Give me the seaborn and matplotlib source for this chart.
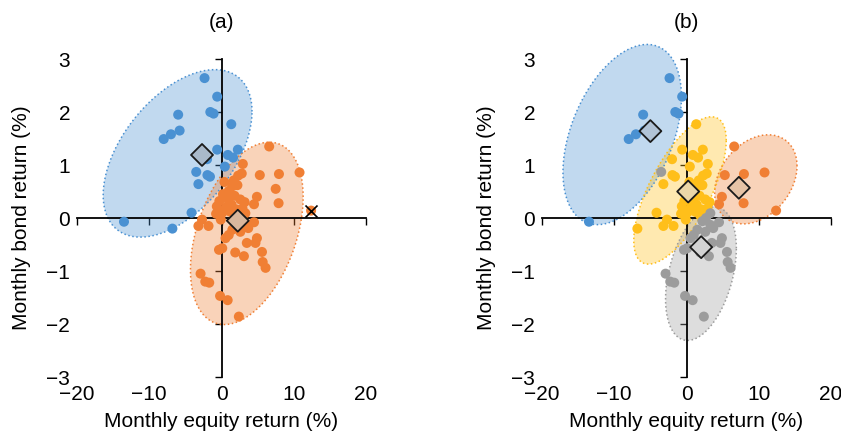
import numpy as np
import pandas as pd
import seaborn as sns
import matplotlib.pyplot as plt

sns.set_theme(style="white")
plt.rcParams['font.family'] = ['Liberation Sans', 'DejaVu Sans']
plt.rcParams['text.color'] = 'black'
plt.rcParams['axes.labelcolor'] = 'black'
plt.rcParams['xtick.color'] = 'black'
plt.rcParams['ytick.color'] = 'black'

# monthly returns (%), one row per month, with regime label for each panel
equity = [-2.35, -0.6, -6.0, -1.55, -1.1, -8.0, -7.0, -5.8, -13.5,
          1.35, -0.6, 2.26, 0.88, 1.6, -2.0, 0.46, -1.95, -1.6, -3.2, -4.15, -6.8,
          -3.5,
          6.6, 5.3, 7.95, 10.8, 7.5, 4.9, 4.5, 7.9, 12.4,
          2.95, 2.8, 2.3, 1.7, 1.5, 1.0, 2.2, 0.4, 0.2, 0.9, 1.8, 2.6, 3.2, 1.4,
          0.6, -0.3, -0.65, 0.1, 1.2, 2.1, 2.9, -0.75, -2.7, -3.2, -1.8, -0.1, 1.9,
          3.3, 2.7, 2.2, 3.3, 4.5, 3.7, 2.6, 1.5, 1.0, 0.55, 4.9, 4.7, 3.5, -0.35,
          0.1, 1.9, 3.1, 5.6, 5.7, 6.1, -2.9, -2.25, -1.7, -0.2, 0.85, 2.4]
bond = [2.64, 2.29, 1.95, 2.0, 1.97, 1.49, 1.58, 1.65, -0.07,
        1.77, 1.29, 1.29, 1.19, 1.14, 1.11, 0.97, 0.81, 0.78, 0.64, 0.1, -0.2,
        0.87,
        1.35, 0.81, 0.83, 0.86, 0.55, 0.4, 0.26, 0.28, 0.14,
        1.02, 0.84, 0.8, 0.71, 0.6, 0.51, 0.62, 0.68, 0.45, 0.35, 0.42, 0.35, 0.3, 0.25,
        0.2, 0.32, 0.22, 0.1, 0.12, 0.16, 0.18, 0.08, -0.03, -0.15, -0.15, -0.03, 0.05,
        0.09, 0.0, -0.06, -0.13, -0.08, -0.19, -0.26, -0.22, -0.32, -0.38, -0.38, -0.47, -0.47, -0.6,
        -0.57, -0.65, -0.72, -0.64, -0.83, -0.94, -1.05, -1.2, -1.22, -1.47, -1.55, -1.86]
regime_a = ['B'] * 22 + ['O'] * 62
regime_b = ['B'] * 9 + ['Y'] * 12 + ['G'] + ['O'] * 9 + ['Y'] * 27 + ['G'] * 26

# regime means (diamonds)
means_a_x = [-2.7, 2.25]
means_a_y = [1.19, -0.05]
means_b_x = [-5.0, 0.23, 7.25, 2.03]
means_b_y = [1.64, 0.5, 0.57, -0.55]

# ellipse parameters: centre, half-extent in x and y, correlation
ell_a = {'B': (-6.08, 1.22, 10.3, 1.58, 0.5), 'O': (3.5, -0.29, 7.8, 1.72, 0.4)}
ell_b = {'B': (-8.9, 1.575, 8.2, 1.70, 0.42), 'O': (9.6, 0.73, 5.7, 0.84, 0.3),
         'Y': (-0.9, 0.52, 6.4, 1.39, 0.68), 'G': (2.0, -1.05, 4.9, 1.26, 0.38)}

# highlighted month
cross_x, cross_y = 12.4, 0.14

colors = {'B': '#4A91D2', 'O': '#F07F34', 'Y': '#FFBF1A', 'G': '#9C9C9C'}
diamond_a = ['#A9B9CA', '#D9B79D']
diamond_b = ['#B1C3D6', '#EBD6A8', '#E6C3A6', '#D2D2D2']

df = pd.DataFrame({'equity': equity, 'bond': bond, 'ra': regime_a, 'rb': regime_b})

FS = 15


def draw_ellipse(ax, p, col):
    cx, cy, sx, sy, rho = p
    t = np.linspace(0, 2 * np.pi, 300)
    ex = cx + sx * np.cos(t)
    ey = cy + sy * (rho * np.cos(t) + np.sqrt(1 - rho ** 2) * np.sin(t))
    ax.fill(ex, ey, color=col, alpha=0.34, lw=0, clip_on=False, zorder=1)
    ax.plot(ex, ey, color=col, ls=':', lw=1.1, clip_on=False, zorder=1.5)


def style_axes(ax, title):
    ax.set_xlim(-20, 20)
    ax.set_ylim(-3, 3)
    ax.set_xticks([-20, -10, 0, 10, 20])
    ax.set_yticks([-3, -2, -1, 0, 1, 2, 3])
    ax.spines['left'].set_visible(False)
    ax.spines['bottom'].set_visible(False)
    ax.spines['right'].set_position(('data', 0))
    ax.spines['top'].set_position(('data', 0))
    for s in ['right', 'top']:
        ax.spines[s].set_color('black')
        ax.spines[s].set_linewidth(1.3)
        ax.spines[s].set_zorder(2)
    ax.xaxis.set_ticks_position('both')
    ax.yaxis.set_ticks_position('both')
    ax.tick_params(axis='x', bottom=False, top=True, direction='in', length=5,
                   width=1, labelbottom=True, labeltop=False, labelsize=FS, pad=6)
    ax.tick_params(axis='y', left=False, right=True, direction='in', length=5,
                   width=1, labelleft=True, labelright=False, labelsize=FS, pad=5)
    ax.set_xlabel('Monthly equity return (%)', fontsize=FS)
    ax.set_ylabel('Monthly bond return (%)', fontsize=FS)
    ax.xaxis.set_label_coords(0.5, -0.11)
    ax.yaxis.set_label_coords(-0.16, 0.5)
    ax.set_title(title, fontsize=FS, pad=22)
    ax.grid(False)


fig = plt.figure(figsize=(8.41, 4.34), dpi=100)
ax1 = fig.add_axes([0.0916, 0.1313, 0.3436, 0.7327])
ax2 = fig.add_axes([0.6445, 0.1313, 0.3436, 0.7327])

# panel (a)
for k, p in ell_a.items():
    draw_ellipse(ax1, p, colors[k])
sns.scatterplot(data=df, x='equity', y='bond', hue='ra', palette=colors, s=52,
                linewidth=0, legend=False, ax=ax1, zorder=3)
ax1.scatter(means_a_x, means_a_y, marker='D', s=125, c=diamond_a,
            edgecolors='#1a1a1a', linewidths=1.3, zorder=4)
ax1.scatter([cross_x], [cross_y], marker='x', s=75, c='black', linewidths=1.2, zorder=4)
style_axes(ax1, '(a)')

# panel (b)
for k in ['B', 'O', 'Y', 'G']:
    draw_ellipse(ax2, ell_b[k], colors[k])
sns.scatterplot(data=df, x='equity', y='bond', hue='rb', palette=colors, s=52,
                linewidth=0, legend=False, ax=ax2, zorder=3)
ax2.scatter(means_b_x, means_b_y, marker='D', s=125, c=diamond_b,
            edgecolors='#1a1a1a', linewidths=1.3, zorder=4)
style_axes(ax2, '(b)')

fig.savefig('out.png', dpi=100)
